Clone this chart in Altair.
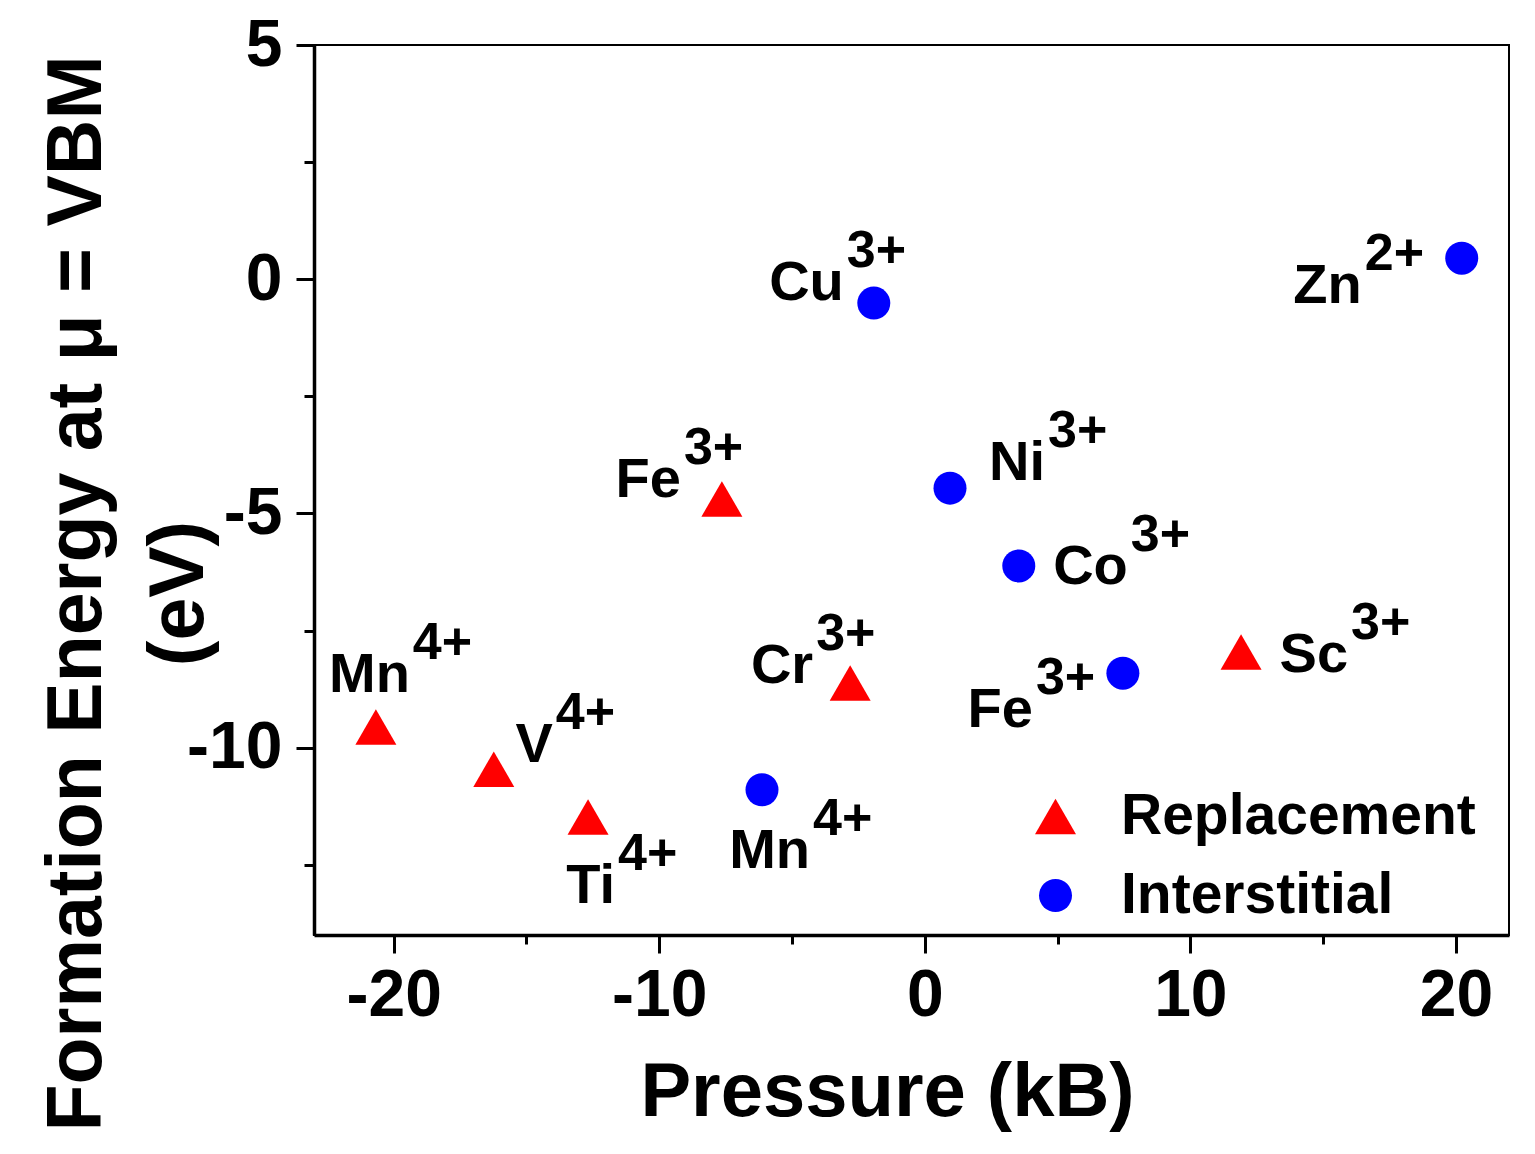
import altair as alt
import pandas as pd

# ---- data ----
types = ["Replacement", "Interstitial"]

rep_names = ["Mn", "V", "Ti", "Fe", "Cr", "Sc"]
rep_charges = ["4+", "4+", "4+", "3+", "3+", "3+"]
rep_pressure = [-20.67, -16.23, -12.68, -7.64, -2.81, 11.91]
rep_energy = [-9.56, -10.46, -11.48, -4.69, -8.62, -7.96]

int_names = ["Cu", "Zn", "Ni", "Co", "Fe", "Mn"]
int_charges = ["3+", "2+", "3+", "3+", "3+", "4+"]
int_pressure = [-1.92, 20.22, 0.95, 3.54, 7.46, -6.13]
int_energy = [-0.51, 0.45, -4.46, -6.12, -8.41, -10.90]

x_ticks = [-20, -15, -10, -5, 0, 5, 10, 15, 20]
y_ticks = [5, 2.5, 0, -2.5, -5, -7.5, -10, -12.5]

# ---- label layout (pixel offsets of the label from its marker) ----
rep_label_offsets = [(34, -35), (59, -7), (27, 86), (-41, -2), (-37, 0), (107, 20)]
int_label_offsets = [(-30, -3), (-100, 45), (95, -8), (109, 18), (-90, 54), (48, 78)]

rows = []
for i in range(len(rep_names)):
    rows.append(dict(key=f"r{i}", type="Replacement", name=rep_names[i], charge=rep_charges[i],
                     pressure=rep_pressure[i], energy=rep_energy[i]))
for i in range(len(int_names)):
    rows.append(dict(key=f"i{i}", type="Interstitial", name=int_names[i], charge=int_charges[i],
                     pressure=int_pressure[i], energy=int_energy[i]))
df = pd.DataFrame(rows)

FONT = "Liberation Sans"

xaxis = alt.Axis(
    title="Pressure (kB)", values=x_ticks, grid=False,
    labelExpr="datum.value % 10 === 0 ? '' + datum.value : ''",
    labelFont=FONT, labelFontSize=66, labelFontWeight="bold", labelColor="black",
    labelPadding=10, labelFlush=False, labelOverlap=False,
    tickSize={"condition": {"test": "datum.value % 10 === 0", "value": 18}, "value": 9},
    tickWidth=3, tickColor="black", domainColor="black", domainWidth=3.5,
    titleFont=FONT, titleFontSize=76, titleFontWeight="bold", titleColor="black",
    titleX=573, titleY=180, titleAlign="center", titleBaseline="alphabetic",
)
yaxis = alt.Axis(
    title=["Formation Energy at \u03bc = VBM", "(eV)"], values=y_ticks, grid=False,
    labelExpr="datum.value % 5 === 0 ? '' + datum.value : ''",
    labelFont=FONT, labelFontSize=66, labelFontWeight="bold", labelColor="black",
    labelPadding=14, labelFlush=False, labelOverlap=False,
    tickSize={"condition": {"test": "datum.value % 5 === 0", "value": 18}, "value": 10},
    tickWidth=3, tickColor="black", domainColor="black", domainWidth=3.5,
    titleFont=FONT, titleFontSize=77, titleFontWeight="bold", titleColor="black",
    titleAngle=270, titleX=-214, titleY=548, titleAlign="center", titleBaseline="alphabetic",
    titleLineHeight=102,
)

xscale = alt.Scale(domain=[-23, 22], nice=False, zero=False)
yscale = alt.Scale(domain=[-14, 5], nice=False, zero=False)

def X():
    return alt.X("pressure:Q", scale=xscale, axis=xaxis)

def Y():
    return alt.Y("energy:Q", scale=yscale, axis=yaxis)

legend = alt.Legend(
    title=None, orient="none", legendX=713, legendY=743, padding=0,
    labelFont=FONT, labelFontSize=57, labelFontWeight="bold", labelColor="black",
    labelOffset=37, rowPadding=21, symbolStrokeWidth=0, labelLimit=600,
)

points = alt.Chart(df).mark_point(filled=True, opacity=1, strokeWidth=0).encode(
    x=X(), y=Y(),
    shape=alt.Shape("type:N", scale=alt.Scale(domain=types, range=["triangle-up", "circle"]), legend=legend),
    color=alt.Color("type:N", scale=alt.Scale(domain=types, range=["#FF0000", "#0000FF"]), legend=legend),
    size=alt.Size("type:N", scale=alt.Scale(domain=types, range=[1681, 1089]), legend=legend),
)

layers = [points]
offsets = [(f"r{i}", o) for i, o in enumerate(rep_label_offsets)] + \
          [(f"i{i}", o) for i, o in enumerate(int_label_offsets)]
for key, (dx, dy) in offsets:
    base = alt.Chart(df).transform_filter(alt.datum.key == key).mark_text(
        align="right", baseline="alphabetic", dx=dx, dy=dy,
        font=FONT, fontSize=56, fontWeight="bold", color="black",
    ).encode(x=X(), y=Y(), text="name:N")
    sup = alt.Chart(df).transform_filter(alt.datum.key == key).mark_text(
        align="left", baseline="alphabetic", dx=dx + 3, dy=dy - 33,
        font=FONT, fontSize=52, fontWeight="bold", color="black",
    ).encode(x=X(), y=Y(), text="charge:N")
    layers += [base, sup]

chart = alt.layer(*layers).properties(
    width=1195, height=890,
    autosize=alt.AutoSizeParams(type="none"),
    padding={"left": 314, "top": 45, "right": 26, "bottom": 219},
    background="white",
).configure_view(stroke="black", strokeWidth=2)

chart.save("out.html", embed_options={"renderer": "svg", "actions": False})
